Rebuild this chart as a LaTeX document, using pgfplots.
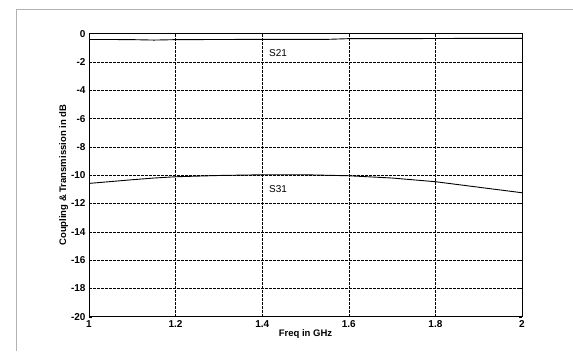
\documentclass[border=0pt]{standalone}
\usepackage{pgfplots}
\pgfplotsset{compat=1.18}
\usepackage{fontspec}
\setmainfont{Liberation Sans}
\begin{document}
\begin{tikzpicture}[x=1pt,y=1pt]
\useasboundingbox (0,0) rectangle (573,351);
\draw[gray!60, line width=0.6pt] (16,0) -- (16,342) -- (573,342);
\begin{axis}[
  at={(89pt,34.3pt)}, anchor=south west,
  scale only axis, width=433pt, height=283pt,
  xmin=1, xmax=2, ymin=-20, ymax=0,
  xtick={1,1.2,1.4,1.6,1.8,2},
  xticklabels={1,1.2,1.4,1.6,1.8,2},
  ytick={0,-2,-4,-6,-8,-10,-12,-14,-16,-18,-20},
  /pgf/number format/assume math mode=true,
  tick label style={font=\fontsize{10}{12}\selectfont\bfseries},
  label style={font=\fontsize{9.5}{11}\selectfont\bfseries},
  xlabel={Freq in GHz},
  ylabel={Coupling \& Transmission in dB},
  xlabel style={yshift=5pt},
  ylabel style={yshift=-4pt},
  tick align=inside, major tick length=3pt,
  axis line style={black, line width=1pt},
  grid=major,
  major grid style={black, line width=0.6pt, dash pattern=on 2.5pt off 1.5pt},
  every tick/.style={black},
]
\addplot[black, line width=0.9pt] coordinates {
 (1.0,-0.41) (1.05,-0.41) (1.1,-0.42) (1.15,-0.45) (1.2,-0.42) (1.3,-0.41)
 (1.4,-0.40) (1.5,-0.40) (1.55,-0.40) (1.6,-0.35) (1.7,-0.35) (1.8,-0.34)
 (1.9,-0.33) (2.0,-0.33)
};
\addplot[black, line width=0.9pt] coordinates {
 (1.0,-10.58) (1.05,-10.45) (1.1,-10.32) (1.15,-10.2) (1.2,-10.11)
 (1.3,-10.02) (1.4,-9.97) (1.5,-9.97) (1.6,-10.04) (1.7,-10.2)
 (1.8,-10.46) (1.9,-10.85) (2.0,-11.24)
};
\node[anchor=west, font=\fontsize{10}{12}\selectfont] at (axis cs:1.408,-1.35) {S21};
\node[anchor=west, font=\fontsize{10}{12}\selectfont] at (axis cs:1.408,-10.95) {S31};
\end{axis}
\end{tikzpicture}
\end{document}
